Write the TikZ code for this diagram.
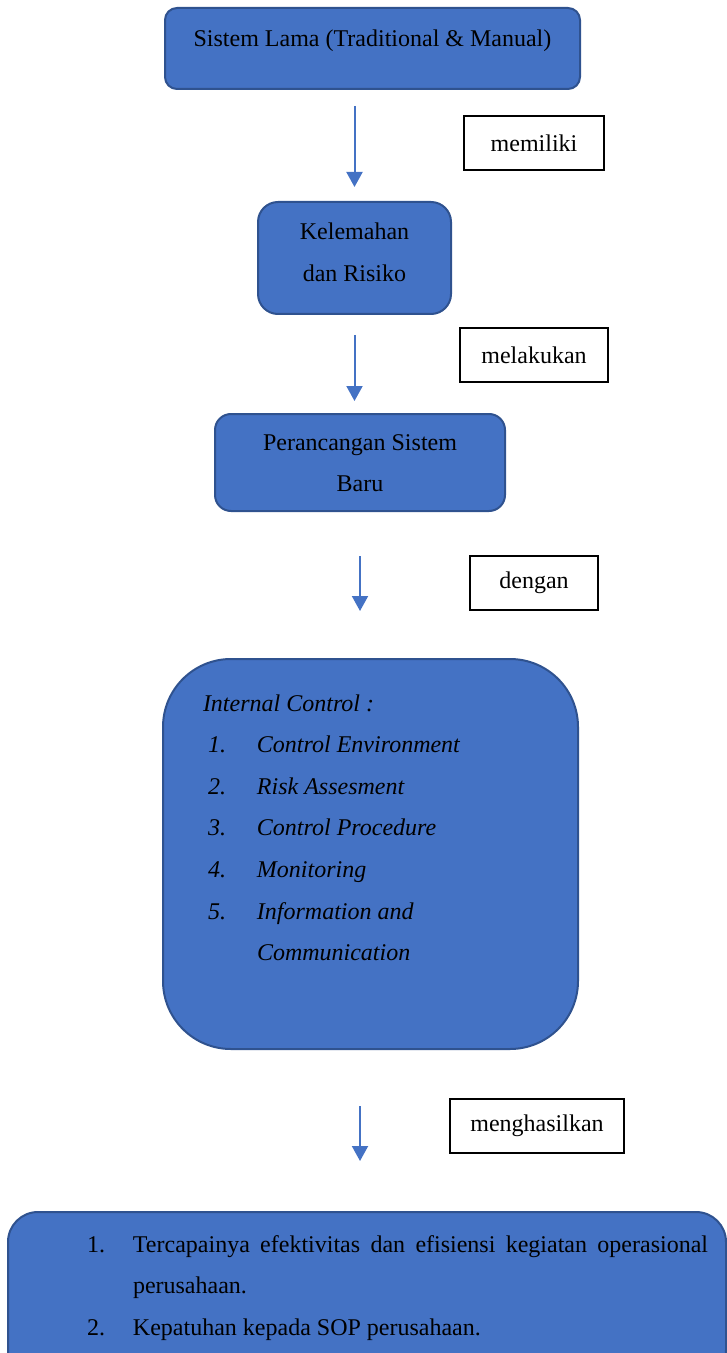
\documentclass[tikz,border=0pt]{standalone}
\usepackage{fontspec}
\setmainfont{Liberation Serif}
\usepackage{xcolor}
\usetikzlibrary{arrows.meta,positioning}
\definecolor{boxblue}{HTML}{4472C4}
\definecolor{boxedge}{HTML}{2F528F}

\begin{document}
\begin{tikzpicture}[
    >={Triangle[width=8pt,length=7.5pt]},
    bluebox/.style={draw=boxedge, line width=1pt, fill=boxblue, inner sep=0pt, font=\fontsize{12}{20.8}\selectfont},
    tagbox/.style={draw=black, line width=0.6pt, fill=white, inner sep=0pt, minimum height=27pt, font=\fontsize{12}{14}\selectfont},
    flow/.style={->, draw=boxblue, line width=1pt}
]
\useasboundingbox (0,0) rectangle (363.5pt,-676.5pt);
\node[bluebox, rounded corners=6pt, minimum width=207.5pt, minimum height=40.5pt] (lama) at (186.25pt,-24.25pt)
    {\begin{tabular}{@{}c@{}}Sistem Lama (Traditional \& Manual)\\[10.5pt]\end{tabular}};
\node[bluebox, rounded corners=10pt, minimum width=96.5pt, minimum height=56pt, below=55.5pt of lama, xshift=-9pt] (kel)
    {\begin{tabular}{@{}c@{}}Kelemahan\\dan Risiko\\[6pt]\end{tabular}};
\node[bluebox, rounded corners=8pt, minimum width=145pt, minimum height=48.5pt, below=49pt of kel, xshift=2.75pt] (rancang)
    {\begin{tabular}{@{}c@{}}Perancangan Sistem\\Baru\end{tabular}};
\node[bluebox, rounded corners=34pt, minimum width=207.5pt, minimum height=195pt, below=73pt of rancang, xshift=5.25pt] (ic)
    {\itshape\begin{tabular}{@{\hspace{2.5pt}}p{24.5pt}@{}p{140.5pt}@{}}
    \multicolumn{2}{@{}l@{}}{Internal Control :}\\
    1. & Control Environment\\
    2. & Risk Assesment\\
    3. & Control Procedure\\
    4. & Monitoring\\
    5. & Information and\\
       & Communication\\[26.5pt]
    \end{tabular}};
\node[bluebox, rounded corners=15pt, minimum width=359pt, minimum height=84pt, below=80.5pt of ic, xshift=-1.75pt] (hasil)
    {\begin{tabular}{@{\hspace{30.5pt}}p{23pt}@{}p{287.5pt}@{}}
    1. & Tercapainya efektivitas dan efisiensi kegiatan operasional perusahaan.\\
    2. & Kepatuhan kepada SOP perusahaan.\\[10.5pt]
    \end{tabular}};
\node[tagbox, minimum width=70pt] (memiliki) at (267pt,-71.5pt) {memiliki};
\node[tagbox, minimum width=74pt] (melakukan) at (267pt,-177.5pt) {melakukan};
\node[tagbox, minimum width=64pt] (dengan) at (267pt,-291.5pt) {dengan};
\node[tagbox, minimum width=87pt] (menghasilkan) at (268.5pt,-563pt) {menghasilkan};
\draw[flow, shorten <=8pt, shorten >=7pt] (lama.south -| kel.north) -- (kel.north);
\draw[flow, shorten <=10pt, shorten >=6pt] (kel.south) -- (kel.south |- rancang.north);
\draw[flow, shorten <=22pt, shorten >=23.5pt] (rancang.south) -- (rancang.south |- ic.north);
\draw[flow, shorten <=28pt, shorten >=25pt] (ic.south -| rancang.south) -- (rancang.south |- hasil.north);
\end{tikzpicture}
\end{document}
